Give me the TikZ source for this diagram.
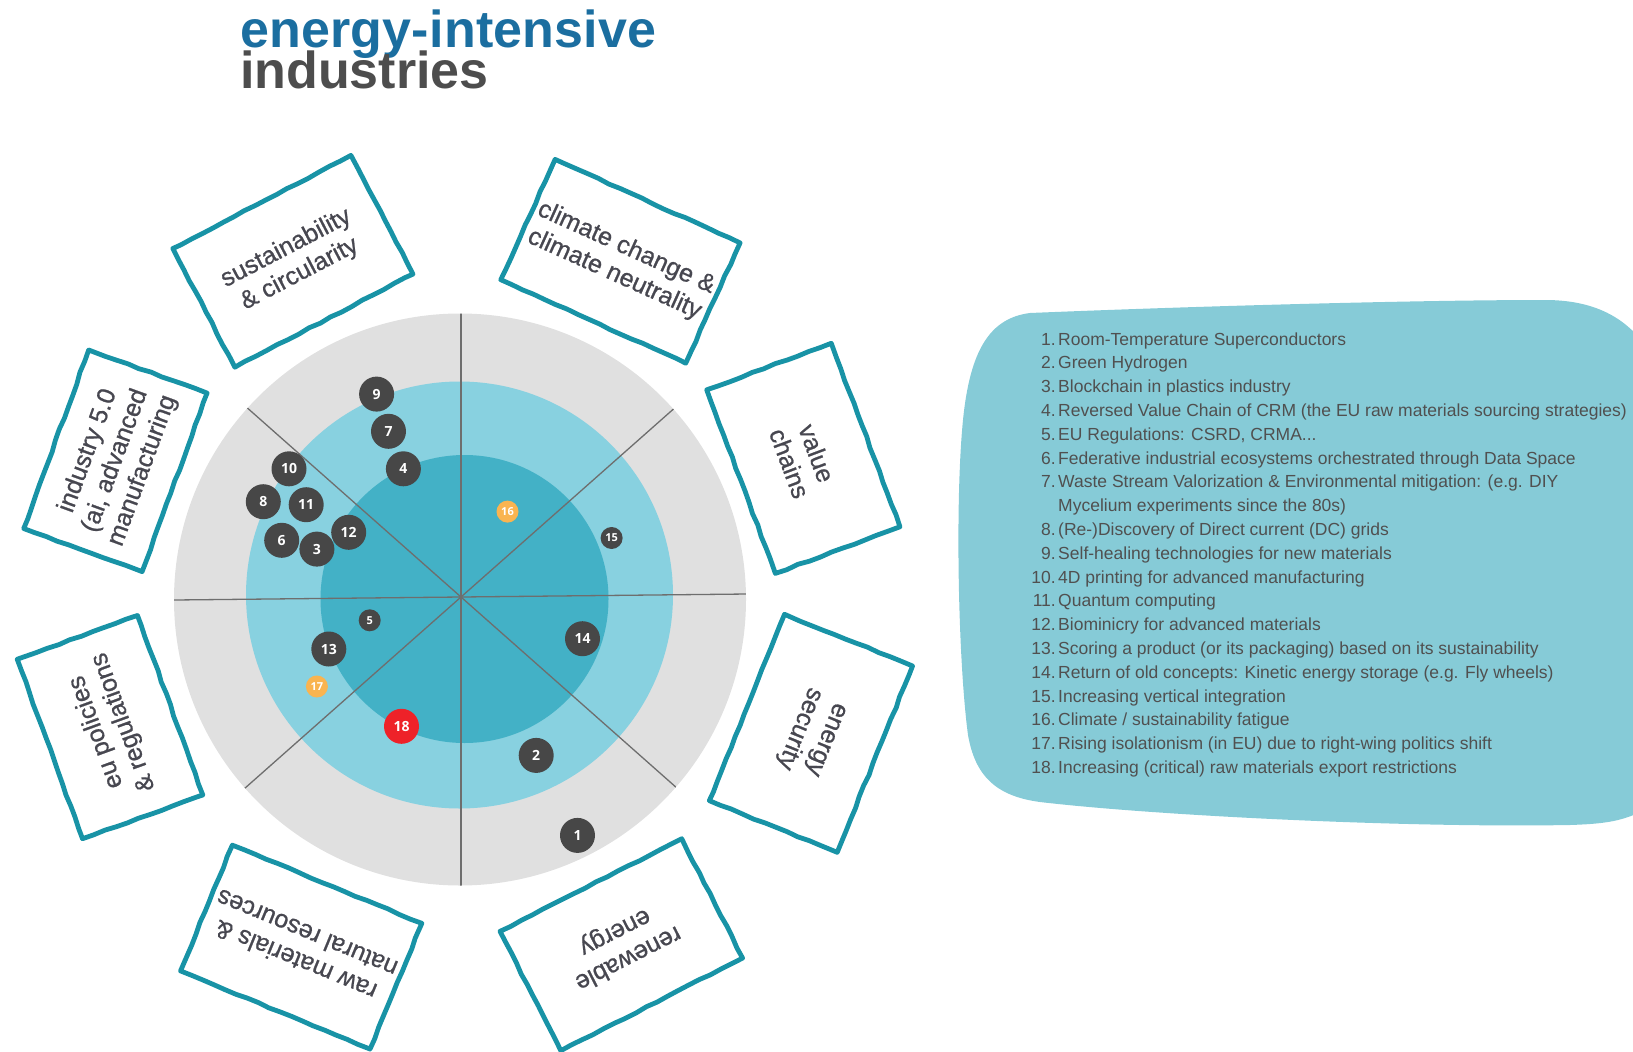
\documentclass[tikz,border=0pt]{standalone}
\usepackage{fontspec}
\setmainfont{Liberation Sans}
\newfontfamily\titlefont{Liberation Sans}[LetterSpace=0.4]
\newfontfamily\boxfont{Liberation Sans}[FakeBold=0.8]
\newfontfamily\dotfont{Open Sans}
\usetikzlibrary{calc,decorations.pathmorphing}
\definecolor{ringout}{HTML}{E0E0E0}
\definecolor{ringmid}{HTML}{88D1E0}
\definecolor{ringin}{HTML}{43B1C6}
\definecolor{spoke}{HTML}{6E6E6E}
\definecolor{dotdark}{HTML}{474747}
\definecolor{dotorange}{HTML}{F9B450}
\definecolor{dotred}{HTML}{EE2229}
\definecolor{boxline}{HTML}{1893A6}
\definecolor{boxtext}{HTML}{474750}
\definecolor{panel}{HTML}{86CBD7}
\definecolor{listtext}{HTML}{505050}
\definecolor{titleblue}{HTML}{1B6EA0}
\definecolor{titlegray}{HTML}{4D4D4D}
\newcommand\listentry[3]{%
  \node[numtext] (n#2) at (1056,{345+23.8*#1}) {#2.};
  \node[itemtext] (t#2) at (1058,{345+23.8*#1}) {#3};
}
\begin{document}
\begin{tikzpicture}[x=1pt,y=-1pt,
  catbox/.style={draw=boxline, line width=4.8pt, line join=round, fill=white, align=center,
    text=boxtext, font=\boxfont\fontsize{25}{29}\selectfont, inner sep=0pt,
    decorate, decoration={random steps, segment length=12pt, amplitude=0.6pt}},
  bigdot/.style={circle, fill=dotdark, minimum size=35pt, inner sep=0pt,
    text=white, font=\dotfont\bfseries\fontsize{14}{14}\selectfont},
  smalldot/.style={circle, fill=dotdark, minimum size=22pt, inner sep=0pt,
    text=white, font=\dotfont\bfseries\fontsize{11}{11}\selectfont},
  numtext/.style={anchor=base east, inner sep=0pt, text=listtext,
    font=\fontsize{17.5}{20}\selectfont},
  itemtext/.style={anchor=base west, inner sep=0pt, text=listtext,
    font=\fontsize{17.5}{20}\selectfont},
  spokeline/.style={draw=spoke, line width=1.3pt}
]
\pgfmathsetseed{7}
\useasboundingbox (0,0) rectangle (1633,1052);
\clip (0,0) rectangle (1633,1052);

% title
\node[anchor=base west, inner sep=0pt, text=titleblue,
  font=\titlefont\bfseries\fontsize{52}{52}\selectfont] (title1) at (240,47) {energy-intensive};
\node[anchor=base west, inner sep=0pt, text=titlegray,
  font=\bfseries\fontsize{52}{52}\selectfont] (title2) at (240,88) {industries};

% radar rings
\fill[ringout] (460,599.5) circle[radius=286];
\fill[ringmid] (459.5,595) circle[radius=213.5];
\fill[ringin] (464.5,599) circle[radius=144];
\coordinate (c) at (461,597);
\begin{scope}
  \clip (460,599.5) circle[radius=286];
  \draw[spokeline] ($(c)+(-0.6:320)$) -- ($(c)+(179.4:320)$);
  \draw[spokeline] ($(c)+(90:320)$) -- ($(c)+(-90:320)$);
  \draw[spokeline] ($(c)+(-41.5:320)$) -- ($(c)+(138.5:320)$);
  \draw[spokeline] ($(c)+(41.5:320)$) -- ($(c)+(-138.5:320)$);
\end{scope}

% category boxes
\node[catbox, minimum width=201pt, minimum height=134pt, rotate=27.6] (b1) at (292.9,261.3)
  {sustainability\\\& circularity};
\node[catbox, minimum width=203pt, minimum height=132pt, rotate=-24.3] (b2) at (620.4,261.3)
  {climate change \&\\climate neutrality};
\node[catbox, minimum width=196pt, minimum height=133pt, rotate=-69.5] (b3) at (803.3,458.3)
  {value\\chains};
\node[catbox, minimum width=201pt, minimum height=138pt, rotate=-112] (b4) at (810.9,733.3)
  {energy\\security};
\node[catbox, minimum width=204pt, minimum height=134pt, rotate=207] (b5) at (621.3,944.7)
  {renewable\\energy};
\node[catbox, minimum width=205pt, minimum height=136pt, rotate=157.6] (b6) at (301.2,947.1)
  {raw materials \&\\natural resources};
\node[catbox, minimum width=191pt, minimum height=128pt, rotate=110] (b7) at (110,727.1)
  {eu policies\\\& regulations};
\node[catbox, minimum width=190pt, minimum height=126pt, rotate=70] (b8) at (115.4,460.8)
  {industry 5.0\\(ai, advanced\\manufacturing};

% dots
\node[bigdot] (d10) at (289,468.8) {10};
\node[bigdot] (d8) at (263.3,501.7) {8};
\node[bigdot] (d11) at (306.2,504.7) {11};
\node[bigdot] (d6) at (281.7,540.3) {6};
\node[bigdot] (d3) at (316.9,549.1) {3};
\node[bigdot] (d12) at (348.7,532.3) {12};
\node[bigdot] (d9) at (376.6,394.1) {9};
\node[bigdot] (d7) at (388.5,431.3) {7};
\node[bigdot] (d4) at (403.4,468.8) {4};
\node[smalldot, fill=dotorange] (d16) at (507.5,511.6) {16};
\node[smalldot] (d15) at (611.6,538) {15};
\node[smalldot] (d5) at (369.7,620.3) {5};
\node[bigdot] (d14) at (582.5,638.7) {14};
\node[bigdot] (d13) at (328.8,649) {13};
\node[smalldot, fill=dotorange] (d17) at (316.9,686.5) {17};
\node[bigdot, fill=dotred] (d18) at (401.5,726.3) {18};
\node[bigdot] (d2) at (536.2,755.4) {2};
\node[bigdot] (d1) at (577.5,835.4) {1};

% legend panel
\fill[panel] (1030,313) .. controls (1200,306) and (1420,300) .. (1545,300)
  .. controls (1595,300) and (1625,318) .. (1645,345)
  -- (1660,370) -- (1660,800) -- (1640,812)
  .. controls (1620,822) and (1600,824) .. (1570,825)
  .. controls (1400,828) and (1150,815) .. (1040,802)
  .. controls (995,796) and (975,775) .. (968,735)
  .. controls (958,660) and (955,500) .. (963,420)
  .. controls (970,350) and (990,318) .. (1030,313) -- cycle;

\listentry{0}{1}{Room-Temperature Superconductors}
\listentry{1}{2}{Green Hydrogen}
\listentry{2}{3}{Blockchain in plastics industry}
\listentry{3}{4}{Reversed Value Chain of CRM (the EU raw materials sourcing strategies)}
\listentry{4}{5}{EU Regulations: CSRD, CRMA...}
\listentry{5}{6}{Federative industrial ecosystems orchestrated through Data Space}
\listentry{6}{7}{Waste Stream Valorization \& Environmental mitigation: (e.g. DIY}
\node[itemtext] (t7b) at (1058,{345+23.8*7}) {Mycelium experiments since the 80s)};
\listentry{8}{8}{(Re-)Discovery of Direct current (DC) grids}
\listentry{9}{9}{Self-healing technologies for new materials}
\listentry{10}{10}{4D printing for advanced manufacturing}
\listentry{11}{11}{Quantum computing}
\listentry{12}{12}{Biominicry for advanced materials}
\listentry{13}{13}{Scoring a product (or its packaging) based on its sustainability}
\listentry{14}{14}{Return of old concepts: Kinetic energy storage (e.g. Fly wheels)}
\listentry{15}{15}{Increasing vertical integration}
\listentry{16}{16}{Climate / sustainability fatigue}
\listentry{17}{17}{Rising isolationism (in EU) due to right-wing politics shift}
\listentry{18}{18}{Increasing (critical) raw materials export restrictions}
\end{tikzpicture}
\end{document}
